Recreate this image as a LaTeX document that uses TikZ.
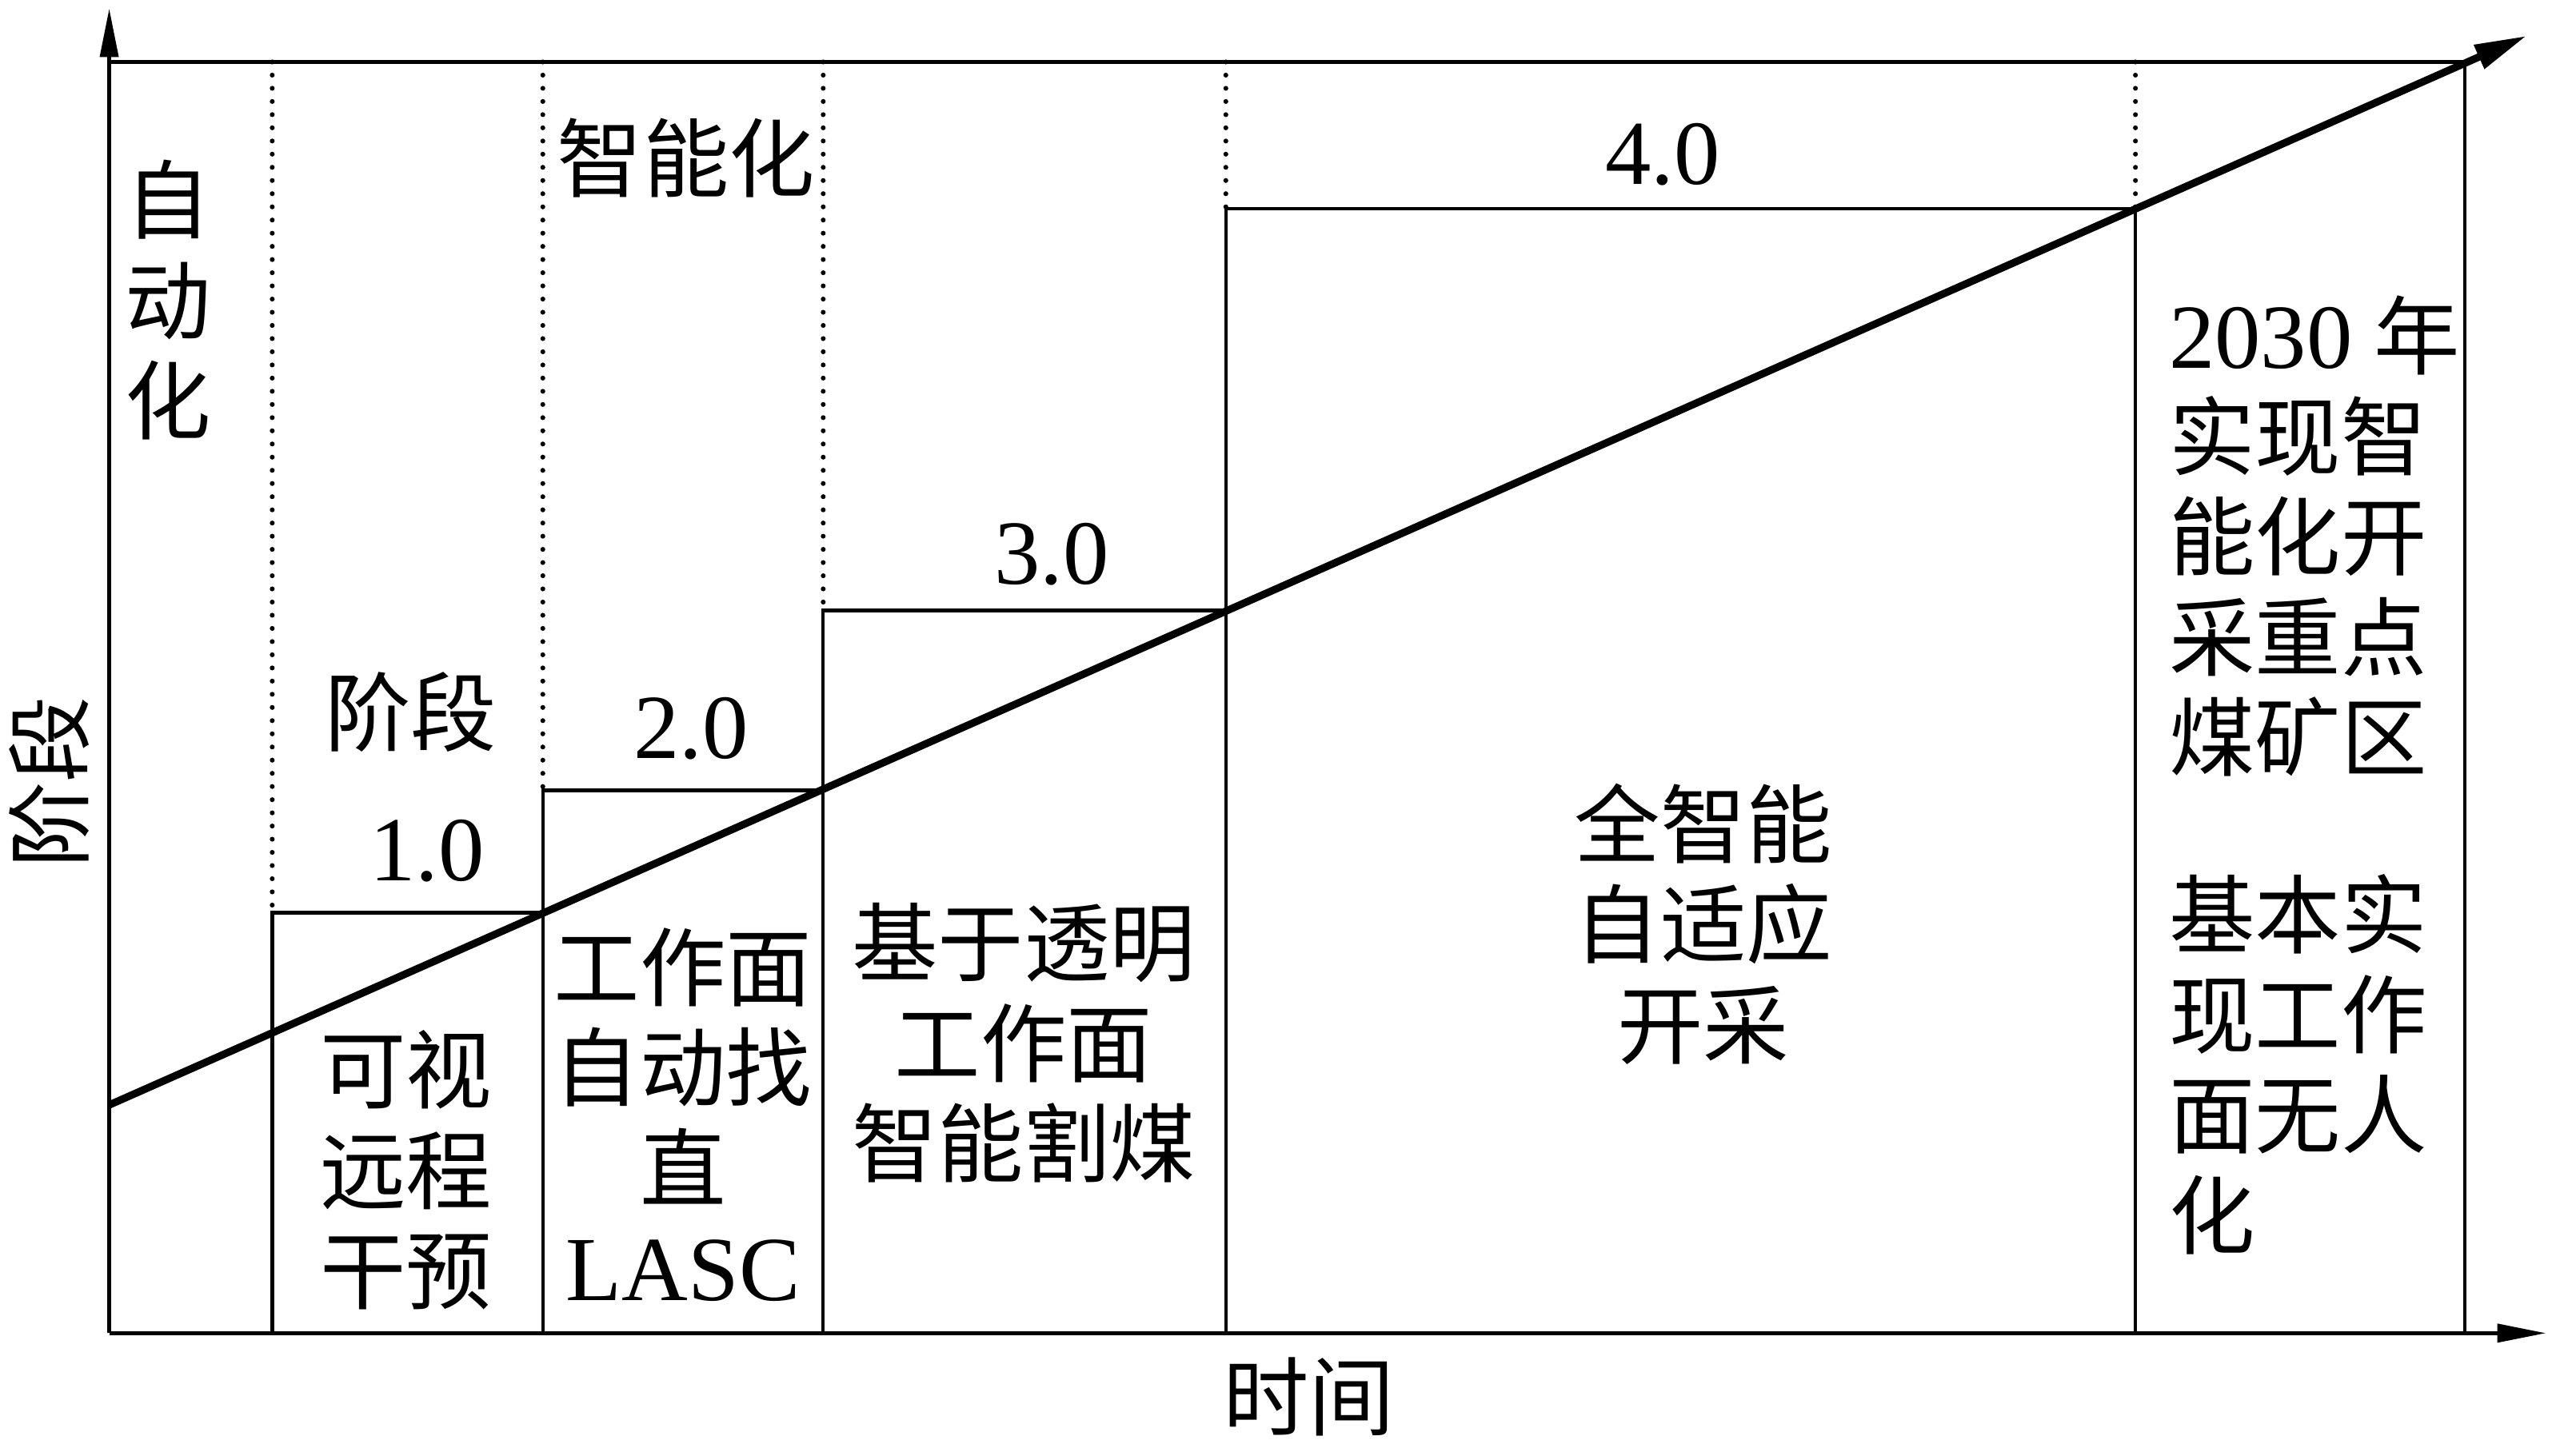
\documentclass[tikz,border=0pt]{standalone}
\usepackage{fontspec}
\setmainfont{Liberation Serif}
\newfontfamily\cjk{Noto Sans CJK SC}
\usetikzlibrary{arrows.meta}
\begin{document}
\begin{tikzpicture}[x=0.1mm,y=-0.1mm,
  axisline/.style={line width=0.75pt,-{Triangle[length=3mm,width=1.1mm]}},
  frameline/.style={line width=0.75pt},
  boxline/.style={line width=0.6pt},
  dotline/.style={line width=0.85pt,dash pattern=on 0pt off 2.3pt,line cap=round},
  diagline/.style={line width=1.3pt,-{Triangle[length=3.2mm,width=1.5mm]}},
  lbl/.style={inner sep=0pt,align=center,font=\cjk\fontsize{15}{17.5}\selectfont},
  lblL/.style={inner sep=0pt,align=left,anchor=west,font=\fontsize{15}{17.5}\selectfont},
  num/.style={inner sep=0pt,font=\fontsize{16}{17.5}\selectfont}]
\useasboundingbox (0,0) rectangle (1568,893);
% key coordinates
\coordinate (O) at (67,818);
\coordinate (Ytip) at (67,5);
\coordinate (Xtip) at (1562,818);
\coordinate (TL) at (67,38);
\coordinate (TR) at (1512,38);
\coordinate (BR) at (1512,818);
\coordinate (D0) at (67,678);
\coordinate (D1) at (1550,22);
% axes
\draw[axisline] (O) -- (Ytip);
\draw[axisline] (O) -- (Xtip);
% frame
\draw[frameline] (TL) -- (TR);
\draw[boxline] (TR) -- (BR);
% dotted verticals
\draw[dotline] (167,38) -- (167,560);
\draw[dotline] (333,38) -- (333,485);
\draw[dotline] (505,38) -- (505,374);
\draw[dotline] (752,38) -- (752,128);
\draw[dotline] (1310,38) -- (1310,128);
% boxes
\draw[boxline] (167,818) -- (167,560) -- (333,560);
\draw[boxline] (333,818) -- (333,485) -- (505,485);
\draw[boxline] (505,818) -- (505,374.5) -- (752,374.5);
\draw[boxline] (752,818) -- (752,128) -- (1310,128) -- (1310,818);
% diagonal
\draw[diagline] (D0) -- (D1);
% labels
\node[lbl] (ylab) at (30,480) [rotate=90] {阶段};
\node[lbl] (xlab) at (803,857) {时间};
\node[lbl] (auto) at (103,184) {自\\动\\化};
\node[lbl] (intel) at (421,97) {智能化};
\node[lbl] (stage) at (252,437) {阶段};
\node[num] (n1) at (262,522) {1.0};
\node[num] (n2) at (424,447) {2.0};
\node[num] (n3) at (645,340) {3.0};
\node[num] (n4) at (1020,95) {4.0};
\node[lbl] (b1) at (249,718) {可视\\远程\\干预};
\node[lbl] (b2) at (419,684) {工作面\\自动找\\直\\{\rmfamily\fontsize{16}{17.5}\selectfont LASC}};
\node[lbl] (b3) at (628,640) {基于透明\\工作面\\智能割煤};
\node[lbl] (b4) at (1045,567) {全智能\\自适应\\开采};
\node[lblL] (r1) at (1330,329) {{\fontsize{16}{17.5}\selectfont 2030} {\cjk 年}\\{\cjk 实现智}\\{\cjk 能化开}\\{\cjk 采重点}\\{\cjk 煤矿区}};
\node[lblL] (r2) at (1330,653) {{\cjk 基本实}\\{\cjk 现工作}\\{\cjk 面无人}\\{\cjk 化}};
\end{tikzpicture}
\end{document}
